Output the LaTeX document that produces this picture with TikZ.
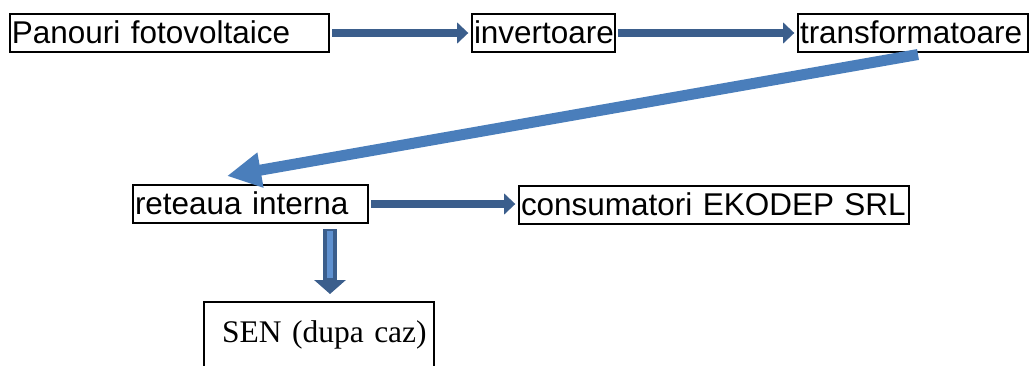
\documentclass[tikz,border=0pt]{standalone}
\usepackage{fontspec}
\setmainfont{Liberation Sans}
\newfontfamily\senfont{Liberation Serif}
\usetikzlibrary{arrows.meta,calc}

\definecolor{flowblue}{RGB}{59,94,140}
\definecolor{feedblue}{RGB}{74,126,187}
\definecolor{dropblue}{RGB}{95,145,208}

\begin{document}
\begin{tikzpicture}
[x=0.75pt, y=-0.75pt,
 box/.style={draw, line width=1.5pt, anchor=north west, inner xsep=1.5pt, inner ysep=0pt,
   minimum height=28.5pt, text height=17pt, text depth=2pt, align=left,
   font=\fontsize{23.6}{28}\selectfont},
 flow/.style={flowblue, line width=6.5pt, -{Triangle[width=15.5pt,length=8.5pt]},
   shorten <=1.5pt, shorten >=2pt},
 feed/.style={feedblue, line width=8.25pt, -{Triangle[width=25pt,length=25.5pt]}},
 drop/.style={flowblue, line width=10.5pt, -{Triangle[width=23.25pt,length=10.5pt]}}]

\useasboundingbox (0,0) rectangle (1033,365);
\clip (0,0) rectangle (1033,365);

\node [box, text width=236.25pt] (pan) at (9,13) {Panouri fotovoltaice};
\node [box, text width=104.25pt] (inv) at (471,13) {invertoare};
\node [box, text width=169.5pt] (trans) at (797,13) {transformatoare};
\node [box, text width=173.25pt] (ret) at (132,184) {reteaua interna};
\node [box, text width=289.5pt] (cons) at (518,185) {consumatori EKODEP SRL};
\node [box, align=right, text width=161.5pt, inner xsep=5.5pt, text height=30pt, text depth=47pt,
  font=\senfont\fontsize{23.6}{28}\selectfont] (sen) at (203,301) {SEN (dupa caz)};

\coordinate (feedstart) at ($(trans.south west)+(121,1.5)$);
\coordinate (feedtip) at ($(ret.north west)+(95,-8)$);
\coordinate (dropstart) at ($(ret.south west)+(198,5)$);
\coordinate (droptip) at ($(sen.north west)+(127,-7)$);

\draw [flow] (pan.east) -- (inv.west);
\draw [flow] (inv.east) -- (trans.west);
\draw [feed] (feedstart) -- (feedtip);
\draw [flow] (ret.east) -- (ret.east -| cons.west);
\draw [drop] (dropstart) -- (droptip);
\draw [dropblue, line width=5pt, shorten <=1.5pt, shorten >=12pt] (dropstart) -- (droptip);
\end{tikzpicture}
\end{document}
